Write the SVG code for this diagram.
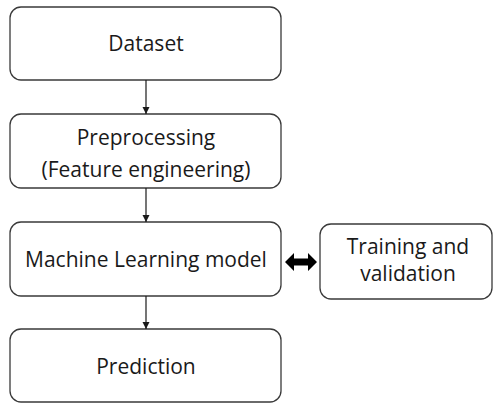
<svg xmlns="http://www.w3.org/2000/svg" width="495" height="404" viewBox="0 0 495 404">
<style>
.box{fill:#fff;stroke:#3a3a3a;stroke-width:1.3}
.t{font-family:"Open Sans","Liberation Sans",sans-serif;font-size:21px;fill:#1a1a1a;text-anchor:middle}
.c{stroke:#1a1a1a;stroke-width:1.2;fill:none}
</style>
<defs>
<marker id="ah" markerWidth="8" markerHeight="8" refX="7" refY="4" orient="auto" markerUnits="userSpaceOnUse">
<path d="M0,0.5 L7,4 L0,7.5 Z" fill="#1a1a1a"/>
</marker>
</defs>
<rect width="495" height="404" fill="#fff"/>
<g id="dataset"><rect class="box" x="10" y="7" width="271" height="73" rx="11"/><text class="t" x="146" y="51">Dataset</text></g>
<g id="preprocessing"><rect class="box" x="10" y="114" width="271" height="74" rx="11"/><text class="t" x="146" y="145">Preprocessing</text><text class="t" x="146" y="177">(Feature engineering)</text></g>
<g id="ml"><rect class="box" x="10" y="222" width="271" height="74" rx="11"/><text class="t" x="146" y="267">Machine Learning model</text></g>
<g id="prediction"><rect class="box" x="10" y="329" width="271" height="73" rx="11"/><text class="t" x="146" y="374">Prediction</text></g>
<g id="training"><rect class="box" x="320" y="224" width="172" height="75" rx="11"/><text class="t" x="408" y="254">Training and</text><text class="t" x="408" y="281">validation</text></g>
<g id="connectors">
<line class="c" x1="146" y1="80" x2="146" y2="114" marker-end="url(#ah)"/>
<line class="c" x1="146" y1="188" x2="146" y2="222" marker-end="url(#ah)"/>
<line class="c" x1="146" y1="296" x2="146" y2="329" marker-end="url(#ah)"/>
<path d="M285,262 L294,253 L294,258.5 L308,258.5 L308,253 L317,262 L308,271 L308,265.5 L294,265.5 L294,271 Z" fill="#000"/>
</g>
</svg>
